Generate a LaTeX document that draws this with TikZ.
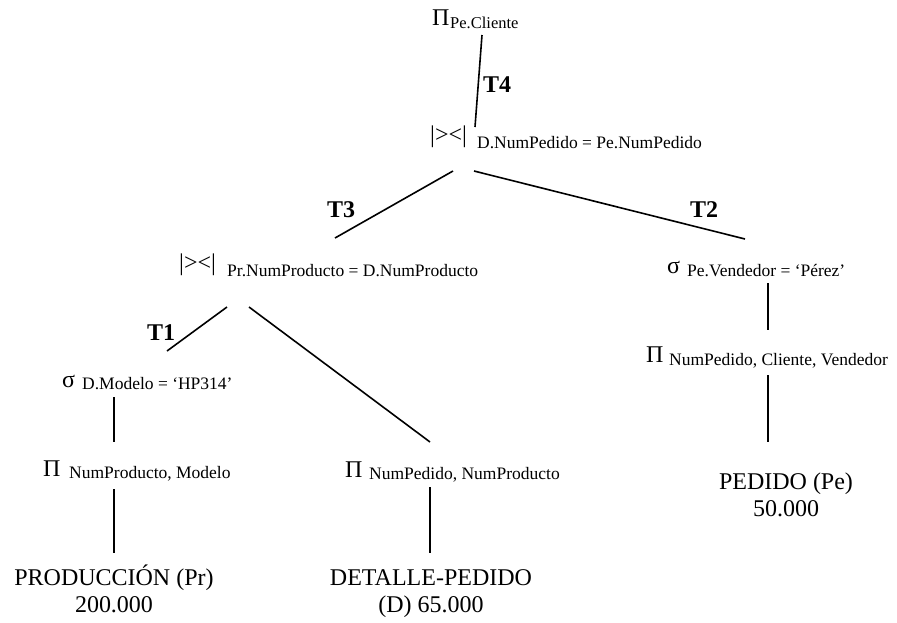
\documentclass[tikz,border=0pt]{standalone}
\usepackage{fontspec}
\setmainfont{Liberation Serif}
\begin{document}
\begin{tikzpicture}[x=1pt,y=-1pt,
  op/.style={inner sep=0pt, anchor=base west, font=\fontsize{24}{27}\selectfont},
  sub/.style={inner sep=0pt, anchor=base west, font=\fontsize{17.5}{20}\selectfont},
  tlab/.style={inner sep=0pt, anchor=base west, font=\bfseries\fontsize{24}{27}\selectfont},
  rel/.style={inner sep=0pt, anchor=base, align=center, font=\fontsize{24}{27}\selectfont},
  edge/.style={line width=1.6pt}]
\useasboundingbox (0,0) rectangle (897,622);
% top projection
\node[op] (p0) at (432,25) {Π};
\node[sub,font=\fontsize{16.5}{19}\selectfont] (p0s) at (450,28) {Pe.Cliente};
% join 1
\node[op] (j1) at (430,142) {|><|};
\node[sub] (j1s) at (477,148) {D.NumPedido = Pe.NumPedido};
% join 2
\node[op] (j2) at (179,270) {|><|};
\node[sub] (j2s) at (227,276) {Pr.NumProducto = D.NumProducto};
% selection HP314
\node[op] (s1) at (62,387) {σ};
\node[sub] (s1s) at (82,389) {D.Modelo = ‘HP314’};
% projection NumProducto, Modelo
\node[op] (p1) at (43,476) {Π};
\node[sub] (p1s) at (69,478) {NumProducto, Modelo};
% projection NumPedido, NumProducto
\node[op] (p2) at (345,477) {Π};
\node[sub] (p2s) at (369,479) {NumPedido, NumProducto};
% selection Perez
\node[op] (s2) at (667,273) {σ};
\node[sub] (s2s) at (687,276) {Pe.Vendedor = ‘Pérez’};
% projection NumPedido, Cliente, Vendedor
\node[op] (p3) at (646,362) {Π};
\node[sub] (p3s) at (669,365) {NumPedido, Cliente, Vendedor};
% relations (anchor = baseline of the last line)
\node[rel] (r1) at (114,612) {PRODUCCIÓN (Pr)\\200.000};
\node[rel] (r2) at (431,612) {DETALLE-PEDIDO\\(D) 65.000};
\node[rel] (r3) at (786,516) {PEDIDO (Pe)\\50.000};
% labels
\node[tlab] (t4) at (483,92) {T4};
\node[tlab] (t3) at (327,217) {T3};
\node[tlab] (t2) at (690,217) {T2};
\node[tlab] (t1) at (147,340) {T1};
% connector end points
\coordinate (a1) at (482,35);  \coordinate (a2) at (475,127);
\coordinate (b1) at (453,171); \coordinate (b2) at (335,238);
\coordinate (c1) at (474,171); \coordinate (c2) at (745,239);
\coordinate (d1) at (227,307); \coordinate (d2) at (167,351);
\coordinate (e1) at (249,307); \coordinate (e2) at (430,442);
\coordinate (f1) at (114,397); \coordinate (f2) at (114,442);
\coordinate (g1) at (114,489); \coordinate (g2) at (114,553);
\coordinate (h1) at (430,487); \coordinate (h2) at (430,553);
\coordinate (i1) at (768,283); \coordinate (i2) at (768,330);
\coordinate (k1) at (768,375); \coordinate (k2) at (768,442);
\draw[edge] (a1) -- (a2);
\draw[edge] (b1) -- (b2);
\draw[edge] (c1) -- (c2);
\draw[edge] (d1) -- (d2);
\draw[edge] (e1) -- (e2);
\draw[edge] (f1) -- (f2);
\draw[edge] (g1) -- (g2);
\draw[edge] (h1) -- (h2);
\draw[edge] (i1) -- (i2);
\draw[edge] (k1) -- (k2);
\end{tikzpicture}
\end{document}
